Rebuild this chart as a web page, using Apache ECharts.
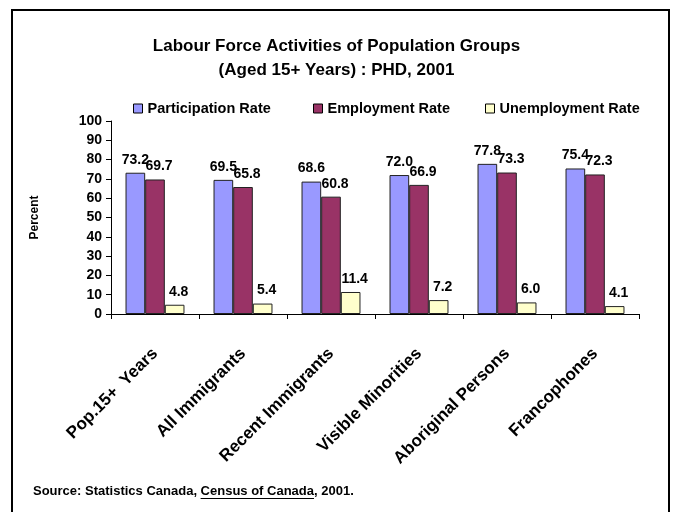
<!DOCTYPE html>
<html>
<head>
<meta charset="utf-8">
<script src="https://cdn.jsdelivr.net/npm/echarts@6/dist/echarts.min.js"></script>
<style>
html,body{margin:0;padding:0;background:#fff;}
#chart{width:673px;height:512px;}
</style>
</head>
<body>
<div id="chart"></div>
<script>
const categories = ['Pop.15+  Years','All Immigrants','Recent Immigrants','Visible Minorities','Aboriginal Persons','Francophones'];
const seriesNames = ['Participation Rate','Employment Rate','Unemployment Rate'];
const participationRate = [73.2, 69.5, 68.6, 72.0, 77.8, 75.4];
const employmentRate = [69.7, 65.8, 60.8, 66.9, 73.3, 72.3];
const unemploymentRate = [4.8, 5.4, 11.4, 7.2, 6.0, 4.1];
const yTicks = [0,10,20,30,40,50,60,70,80,90,100];

const FONT = '"Liberation Sans", Arial, sans-serif';
const chart = echarts.init(document.getElementById('chart'), null, {renderer:'canvas'});

function measure(text, size){
  const c = document.createElement('canvas').getContext('2d');
  c.font = 'bold ' + size + 'px ' + FONT;
  return c.measureText(text).width;
}
const srcPre = 'Source: Statistics Canada, ';
const srcMid = 'Census of Canada';
const srcSize = 13;
const srcX = 33, srcY = 491;
const preW = measure(srcPre, srcSize), midW = measure(srcMid, srcSize);

function labelStyle(dx){
  return {show:true, position:'top', distance:6, offset:[dx,0], fontFamily:FONT, fontWeight:'bold', fontSize:14, color:'#000',
    formatter: p => p.value.toFixed(1)};
}

function bar(name, data, color, dx){
  return {name, type:'bar', data, barGap:'0%', barCategoryGap:'33%',
    itemStyle:{color, borderColor:'#222', borderWidth:1},
    label:labelStyle(dx)};
}
const legendLeft = [133, 313, 485];
function legend(i){
  return {
    data:[seriesNames[i]], top:101, left:legendLeft[i], padding:0, itemWidth:9, itemHeight:9,
    icon:'rect',
    textStyle:{fontFamily:FONT, fontWeight:'bold', fontSize:14.5, color:'#000'},
    itemStyle:{borderColor:'#000', borderWidth:1}
  };
}

chart.setOption({
  animation:false,
  backgroundColor:'#fff',
  title:{
    text:'Labour Force Activities of Population Groups\n(Aged 15+ Years) : PHD, 2001',
    left:'center', top:29,
    textStyle:{fontFamily:FONT, fontWeight:'bold', fontSize:17, color:'#000', lineHeight:24}
  },
  legend:[legend(0), legend(1), legend(2)],
  grid:{left:111, right:34, top:121, bottom:198, containLabel:false},
  xAxis:{
    type:'category', data:categories,
    axisLine:{lineStyle:{color:'#000', width:1}},
    axisTick:{show:true, alignWithLabel:false, length:5, lineStyle:{color:'#000'}},
    axisLabel:{rotate:45, interval:0, margin:37, fontFamily:FONT, fontWeight:'bold', fontSize:17, color:'#000'}
  },
  yAxis:{
    type:'value', min:yTicks[0], max:yTicks[yTicks.length-1], interval:10,
    name:'Percent', nameLocation:'middle', nameRotate:90, nameGap:70,
    nameTextStyle:{fontFamily:FONT, fontWeight:'bold', fontSize:12, color:'#000'},
    axisLine:{show:true, lineStyle:{color:'#000', width:1}},
    axisTick:{show:true, length:5, lineStyle:{color:'#000'}},
    splitLine:{show:false},
    axisLabel:{margin:9, fontFamily:FONT, fontWeight:'bold', fontSize:14, color:'#000'}
  },
  series:[
    bar(seriesNames[0], participationRate, '#9999FF', 0),
    bar(seriesNames[1], employmentRate, '#993366', 4),
    bar(seriesNames[2], unemploymentRate, '#FFFFCC', 4)
  ],
  graphic:[
    {type:'rect', shape:{x:12, y:10, width:657, height:520}, style:{fill:'none', stroke:'#000', lineWidth:2}, silent:true},
    {type:'text', x:srcX, y:srcY, style:{text:srcPre + srcMid + ', 2001.', font:'bold '+srcSize+'px '+FONT, fill:'#000', verticalAlign:'middle'}},
    {type:'line', shape:{x1:srcX+preW, y1:srcY+7.5, x2:srcX+preW+midW, y2:srcY+7.5}, style:{stroke:'#000', lineWidth:1.2}}
  ]
});
</script>
</body>
</html>
